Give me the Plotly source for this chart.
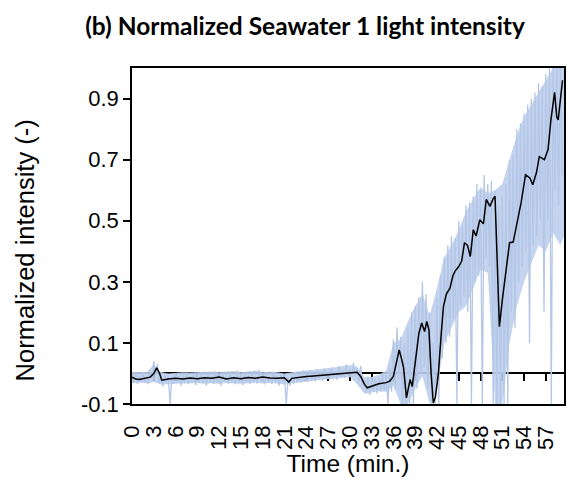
import plotly.graph_objects as go

# ---------------- data ----------------
TIME_STEP = 0.25  # minutes between raw samples

raw_intensity = [
    -0.005, -0.032, 0.002, -0.035,   # 0
    -0.008, -0.030, 0.004, -0.028,   # 1
    -0.010, -0.035, 0.000, -0.020,   # 2
    0.040, -0.005, 0.030, -0.030,    # 3
    -0.008, -0.042, -0.004, -0.030,  # 4
    -0.006, -0.100, -0.010, -0.035,  # 5
    0.000, -0.030, -0.008, -0.040,   # 6
    -0.004, -0.032, 0.002, -0.035,   # 7
    -0.010, -0.030, 0.000, -0.038,   # 8
    -0.005, -0.030, 0.005, -0.032,   # 9
    -0.010, -0.040, 0.000, -0.030,   # 10
    -0.006, -0.035, 0.008, -0.030,   # 11
    -0.010, -0.040, 0.000, -0.025,   # 12
    -0.005, -0.034, 0.006, -0.030,   # 13
    -0.008, -0.036, 0.010, -0.030,   # 14
    -0.004, -0.038, 0.002, -0.030,   # 15
    -0.006, -0.035, 0.004, -0.032,   # 16
    -0.010, -0.033, 0.012, -0.028,   # 17
    -0.004, -0.036, 0.003, -0.030,   # 18
    -0.006, -0.034, 0.005, -0.028,   # 19
    -0.008, -0.040, 0.000, -0.030,   # 20
    -0.010, -0.100, -0.012, -0.040,  # 21
    -0.006, -0.035, 0.004, -0.030,   # 22
    -0.002, -0.030, 0.010, -0.028,   # 23
    0.000, -0.028, 0.012, -0.025,    # 24
    0.002, -0.026, 0.014, -0.020,    # 25
    0.004, -0.024, 0.016, -0.018,    # 26
    0.006, -0.020, 0.020, -0.015,    # 27
    0.008, -0.020, 0.025, -0.012,    # 28
    0.012, -0.015, 0.030, -0.010,    # 29
    0.015, -0.012, 0.035, -0.010,    # 30
    0.020, -0.030, 0.025, -0.040,    # 31
    -0.020, -0.065, -0.010, -0.070,  # 32
    -0.020, -0.060, -0.015, -0.065,  # 33
    -0.010, -0.060, 0.000, -0.055,   # 34
    -0.005, -0.100, 0.020, -0.060,   # 35
    0.110, -0.050, 0.150, -0.020,    # 36
    0.120, -0.100, 0.100, -0.100,    # 37
    0.150, -0.100, 0.200, -0.100,    # 38
    0.220, -0.050, 0.250, 0.000,     # 39
    0.300, 0.020, 0.260, -0.050,     # 40
    0.200, -0.100, 0.100, -0.100,    # 41
    0.250, -0.100, 0.320, 0.050,     # 42
    0.380, 0.100, 0.420, 0.120,      # 43
    0.450, 0.180, 0.440, -0.100,     # 44
    0.500, 0.220, 0.480, 0.250,      # 45
    0.550, 0.200, 0.560, -0.100,     # 46
    0.580, 0.300, 0.620, 0.320,      # 47
    0.600, -0.100, 0.650, 0.380,     # 48
    0.620, 0.350, 0.630, -0.100,     # 49
    0.600, -0.100, 0.550, -0.100,    # 50
    0.580, -0.100, 0.620, -0.100,    # 51
    0.700, 0.200, 0.720, 0.150,      # 52
    0.800, 0.300, 0.820, 0.350,      # 53
    0.850, 0.400, 0.880, 0.100,      # 54
    0.900, 0.420, 0.920, 0.450,      # 55
    0.950, 0.500, 0.940, 0.200,      # 56
    0.980, 0.500, 1.000, -0.100,     # 57
    1.000, 0.600, 1.000, 0.550,      # 58
    1.000, 0.650,                    # 59
]
raw_time = [i * TIME_STEP for i in range(len(raw_intensity))]

# minute-by-minute spread of the raw signal (upper / lower edge of the noise band)
band_time = list(range(0, 60)) + [59.5]
band_upper = [
    0.005, 0.005, 0.005, 0.030, 0.005, 0.000, 0.002, 0.004, 0.003, 0.004,
    0.003, 0.006, 0.004, 0.006, 0.008, 0.004, 0.006, 0.010, 0.004, 0.006,
    0.004, 0.000, 0.004, 0.008, 0.010, 0.012, 0.014, 0.017, 0.020, 0.024,
    0.028, 0.022, -0.012, -0.012, -0.004, 0.010, 0.100, 0.110, 0.170, 0.220,
    0.260, 0.190, 0.280, 0.380, 0.420, 0.470, 0.530, 0.570, 0.610, 0.590,
    0.600, 0.620, 0.700, 0.780, 0.840, 0.880, 0.920, 0.960, 1.000, 1.000,
    1.000,
]
band_lower = [
    -0.032, -0.030, -0.032, -0.028, -0.036, -0.034, -0.034, -0.033, -0.032, -0.031,
    -0.034, -0.032, -0.034, -0.031, -0.033, -0.034, -0.032, -0.030, -0.033, -0.031,
    -0.034, -0.036, -0.032, -0.029, -0.027, -0.024, -0.022, -0.018, -0.017, -0.014,
    -0.012, -0.035, -0.066, -0.062, -0.058, -0.060, -0.040, -0.100, -0.100, -0.050,
    -0.010, -0.100, -0.050, 0.100, 0.150, 0.200, 0.220, 0.280, 0.340, 0.330,
    -0.100, -0.100, 0.100, 0.220, 0.300, 0.360, 0.420, 0.400, 0.460, 0.420,
    0.450,
]

smooth_time = [
    0, 0.5, 1, 1.5, 2, 2.5, 3, 3.4, 3.8, 4.1, 5, 6, 7, 8, 9, 10, 11, 12, 13, 14,
    15, 16, 17, 18, 19, 20, 21, 21.6, 22, 23, 24, 25, 26, 27, 28, 29, 30, 31,
    31.5, 32, 32.4, 33, 34, 35, 35.5, 36, 36.4, 36.8, 37.1, 37.4, 37.8, 38.1,
    38.3, 38.6, 38.9, 39.2, 39.5, 39.9, 40.3, 40.6, 40.9, 41.2, 41.5, 41.8,
    42.2, 42.6, 42.9, 43.3, 43.8, 44.2, 44.5, 45.0, 45.4, 45.8, 46.2, 46.6,
    47.0, 47.4, 47.9, 48.4, 48.8, 49.3, 49.7, 50.0, 50.3, 50.6, 51.0, 51.5,
    52.0, 52.5, 53.2, 53.6, 54.2, 54.8, 55.2, 55.7, 56.1, 56.8, 57.3, 57.7,
    58.2, 58.5, 58.7, 59.1, 59.3,
]
smooth_intensity = [
    -0.012, -0.018, -0.020, -0.018, -0.016, -0.012, 0.000, 0.018, 0.000, -0.022,
    -0.018, -0.016, -0.018, -0.015, -0.017, -0.014, -0.016, -0.012, -0.018,
    -0.014, -0.017, -0.013, -0.016, -0.012, -0.015, -0.016, -0.014, -0.028,
    -0.016, -0.012, -0.010, -0.008, -0.006, -0.004, -0.002, 0.000, 0.004,
    0.004, -0.010, -0.035, -0.047, -0.042, -0.034, -0.030, -0.025, -0.010,
    0.030, 0.077, 0.050, 0.020, -0.080, -0.040, -0.020, -0.043, 0.020, 0.077,
    0.130, 0.165, 0.137, 0.170, 0.143, 0.000, -0.097, -0.076, 0.000, 0.133,
    0.220, 0.260, 0.280, 0.320, 0.335, 0.350, 0.367, 0.428, 0.420, 0.383,
    0.470, 0.450, 0.503, 0.490, 0.570, 0.547, 0.570, 0.580, 0.330, 0.153,
    0.240, 0.330, 0.428, 0.430, 0.514, 0.560, 0.650, 0.640, 0.618, 0.657,
    0.710, 0.700, 0.733, 0.830, 0.920, 0.840, 0.830, 0.930, 0.960,
]

x_ticks = list(range(0, 58, 3))
y_ticks = [-0.1, 0.1, 0.3, 0.5, 0.7, 0.9]
y_tick_text = ["-0.1", "0.1", "0.3", "0.5", "0.7", "0.9"]

# ---------------- figure ----------------
Y_MIN, Y_MAX = -0.1, 1.0
zero_pos = (0 - Y_MIN) / (Y_MAX - Y_MIN)
BLUE = "#B4C7E7"
ARIAL = "Liberation Sans, Arial, sans-serif"

fig = go.Figure()
fig.add_trace(go.Scatter(
    x=band_time, y=band_lower, mode="lines", line=dict(width=0, color=BLUE),
    showlegend=False, hoverinfo="skip",
))
fig.add_trace(go.Scatter(
    x=band_time, y=band_upper, mode="lines", line=dict(width=0, color=BLUE),
    fill="tonexty", fillcolor="rgba(190,207,236,0.9)",
    showlegend=False, hoverinfo="skip",
))
fig.add_trace(go.Scatter(
    x=raw_time, y=raw_intensity, mode="lines",
    line=dict(color=BLUE, width=1.3),
    showlegend=False, hoverinfo="skip",
))
fig.add_trace(go.Scatter(
    x=smooth_time, y=smooth_intensity, mode="lines",
    line=dict(color="#000000", width=1.5),
    showlegend=False,
))

tick_font = dict(family=ARIAL, size=22, color="#000000")

fig.update_layout(
    width=568, height=481,
    margin=dict(l=132, r=2, t=68, b=77),
    paper_bgcolor="white", plot_bgcolor="white",
    title=dict(
        text="<b>(b) Normalized Seawater 1 light intensity</b>",
        x=0.537, xanchor="center", y=0.945, yanchor="middle",
        font=dict(family="Lato, sans-serif", size=24.5, color="#000000"),
    ),
    xaxis=dict(
        range=[0, 59.5], tickmode="array", tickvals=x_ticks,
        ticktext=[str(v) for v in x_ticks], tickangle=-90,
        ticks="", showgrid=False, zeroline=False,
        showline=True, linecolor="#000000", linewidth=1.5, mirror=True,
        tickfont=tick_font, ticklabelstandoff=11,
        title=dict(text="Time (min.)", standoff=6,
                   font=dict(family=ARIAL, size=24.5, color="#000000")),
    ),
    xaxis2=dict(
        overlaying="x", matches="x", anchor="free", position=zero_pos,
        tickmode="array", tickvals=x_ticks, showticklabels=False,
        ticks="outside", ticklen=7, tickwidth=1.5, tickcolor="#000000",
        showline=True, linecolor="#000000", linewidth=1.5,
        showgrid=False, zeroline=False, layer="below traces",
    ),
    yaxis=dict(
        range=[Y_MIN, Y_MAX], tickmode="array", tickvals=y_ticks, ticktext=y_tick_text,
        ticks="outside", ticklen=7, tickwidth=1.5, tickcolor="#000000",
        showgrid=False, zeroline=False,
        showline=True, linecolor="#000000", linewidth=1.5, mirror=True,
        tickfont=tick_font,
    ),
    annotations=[dict(
        text="Normalized intensity (-)", textangle=-90,
        xref="paper", yref="paper", x=-0.247, y=0.458,
        xanchor="center", yanchor="middle", showarrow=False,
        font=dict(family=ARIAL, size=25.5, color="#000000"),
    )],
)

# an invisible trace so the overlaying zero-line axis is drawn
fig.add_trace(go.Scatter(x=[0], y=[0], xaxis="x2", mode="markers",
                         marker=dict(opacity=0), showlegend=False, hoverinfo="skip"))

fig.write_html("out.html")
